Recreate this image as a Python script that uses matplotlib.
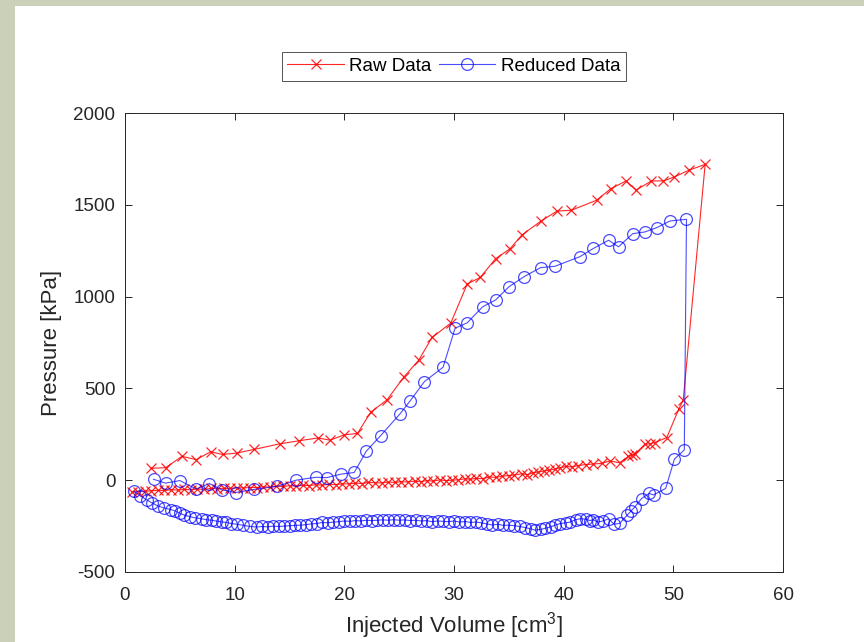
import matplotlib
matplotlib.use("Agg")
import matplotlib.pyplot as plt
from matplotlib.patches import Rectangle

# Raw data: loading branch (increasing volume) then unloading branch
raw_x = [2.4, 3.7, 5.2, 6.5, 7.8, 8.9, 10.2, 11.8, 14.1, 15.9, 17.6, 18.7, 20.0, 21.2,
         22.4, 23.9, 25.4, 26.8, 28.0, 29.7, 31.2, 32.4, 33.8, 35.1, 36.2, 37.9, 39.4,
         40.7, 43.0, 44.3, 45.7, 46.6, 48.0, 49.1, 50.1, 51.4, 52.9,
         50.9, 50.5, 49.4, 48.3, 47.9, 47.4, 46.5, 46.2, 45.9, 45.1, 44.2, 43.5, 42.7,
         42.0, 41.3, 40.8, 40.2, 39.7, 39.2, 38.7, 38.2, 37.7, 37.2, 36.7, 36.2, 35.5,
         35.0, 34.4, 33.8, 33.2, 32.6, 32.0, 31.5, 31.0, 30.4, 29.8, 29.3, 28.7, 28.1,
         27.5, 27.0, 26.4, 25.8, 25.2, 24.6, 24.0, 23.4, 22.8, 22.2, 21.6, 21.0, 20.4,
         19.8, 19.2, 18.6, 18.0, 17.4, 16.8, 16.2, 15.6, 15.0, 14.4, 13.8, 13.2, 12.6,
         12.0, 11.4, 10.8, 10.2, 9.6, 9.0, 8.4, 7.8, 7.2, 6.6, 6.0, 5.4, 4.8, 4.2, 3.6,
         3.0, 2.4, 1.8, 1.2, 0.6]
raw_p = [65, 68, 130, 112, 155, 140, 148, 168, 198, 215, 230, 218, 247, 255,
         370, 438, 560, 655, 778, 855, 1068, 1105, 1207, 1260, 1336, 1410, 1466,
         1470, 1525, 1588, 1630, 1580, 1630, 1630, 1652, 1688, 1720,
         435, 388, 232, 205, 198, 196, 142, 136, 130, 95, 105, 92, 88,
         85, 80, 72, 75, 68, 60, 55, 50, 45, 40, 30, 35, 28,
         25, 22, 15, 18, 8, 10, 5, 8, 2, 0, -3, 2, -5,
         -2, -8, -5, -10, -8, -12, -10, -15, -14, -12, -18, -16, -20,
         -20, -24, -22, -27, -25, -29, -28, -32, -30, -34, -33, -37, -36,
         -40, -40, -42, -41, -45, -44, -47, -45, -50, -48, -52, -50, -54, -52, -56,
         -55, -58, -60, -62, -65]

# Reduced data
red_x = [2.6, 3.7, 5.0, 6.5, 7.7, 8.8, 10.1, 11.8, 13.9, 15.6, 17.4, 18.4, 19.7, 20.9,
         22.0, 23.3, 25.1, 26.0, 27.3, 29.0, 30.1, 31.2, 32.6, 33.8, 35.0, 36.4, 37.9,
         39.2, 41.5, 42.7, 44.1, 45.0, 46.3, 47.4, 48.5, 49.7, 51.2,
         51.0, 50.1, 49.3, 48.2, 47.8, 47.1, 46.5, 46.1, 45.8, 45.1, 44.6, 44.1, 43.6,
         43.1, 42.7, 42.4, 42.0, 41.5, 41.1, 40.6, 40.2, 39.7, 39.2, 38.8, 38.3, 37.9,
         37.4, 37.0, 36.5, 36.0, 35.5, 35.0, 34.5, 34.0, 33.5, 33.0, 32.5, 32.0, 31.5,
         31.0, 30.5, 30.0, 29.5, 29.0, 28.5, 28.0, 27.5, 27.0, 26.5, 26.0, 25.5, 25.0,
         24.5, 24.0, 23.5, 23.0, 22.5, 22.0, 21.5, 21.0, 20.5, 20.0, 19.5, 19.0, 18.5,
         18.0, 17.5, 17.0, 16.5, 16.0, 15.5, 15.0, 14.5, 14.0, 13.5, 13.0, 12.5, 12.0,
         11.4, 10.8, 10.2, 9.7, 9.2, 8.8, 8.3, 7.9, 7.4, 7.0, 6.4, 5.9, 5.4, 5.0, 4.6,
         4.2, 3.6, 3.0, 2.5, 2.0, 1.4, 0.8]
red_p = [5, -16, -2, -48, -18, -52, -67, -50, -33, 0, 16, 14, 33, 42,
         158, 242, 363, 432, 537, 615, 828, 857, 944, 982, 1053, 1109, 1158,
         1165, 1218, 1262, 1307, 1271, 1343, 1352, 1376, 1412, 1421,
         165, 115, -45, -80, -72, -100, -145, -170, -190, -235, -240, -210, -222,
         -228, -215, -220, -212, -210, -215, -228, -232, -236, -245, -255, -262, -268,
         -272, -265, -258, -252, -248, -245, -246, -240, -244, -238, -232, -228, -230,
         -225, -228, -222, -226, -224, -222, -226, -220, -222, -218, -220, -216, -218,
         -215, -218, -216, -218, -220, -218, -222, -220, -224, -222, -226, -228, -232,
         -230, -236, -238, -242, -245, -246, -248, -250, -252, -250, -254, -252, -255,
         -252, -246, -240, -236, -230, -227, -222, -218, -215, -210, -205, -198, -190, -180, -168,
         -160, -152, -140, -125, -108, -85, -60]

plt.rcParams["font.family"] = ["Liberation Sans", "DejaVu Sans"]
plt.rcParams["mathtext.fontset"] = "custom"
plt.rcParams["mathtext.rm"] = "Liberation Sans"
plt.rcParams["mathtext.it"] = "Liberation Sans"
plt.rcParams["axes.unicode_minus"] = False

fig = plt.figure(figsize=(8.64, 6.42), dpi=100)
fig.patch.set_facecolor("#cbd0b9")
fig.add_artist(Rectangle((15 / 864, 0), 1, 636 / 642, transform=fig.transFigure,
                         facecolor="white", edgecolor="none", zorder=-5))

ax = fig.add_axes([125 / 864, 70 / 642, 658 / 864, 459 / 642])
ax.plot(raw_x, raw_p, "-", color="red", lw=0.8, marker="x", ms=7, mew=0.9,
        alpha=0.85, label="Raw Data")
ax.plot(red_x, red_p, "-", color="blue", lw=0.8, marker="o", ms=8.5, mew=0.9,
        mfc="none", alpha=0.7, label="Reduced Data")

ax.set_xlim(0, 60)
ax.set_ylim(-500, 2000)
ax.set_xticks(range(0, 61, 10))
ax.set_yticks(range(-500, 2001, 500))
ax.tick_params(direction="in", length=5, width=0.7, colors="#262626",
               labelsize=13.5, top=True, right=True, pad=7)
ax.tick_params(axis="x", pad=11)
for s in ax.spines.values():
    s.set_color("#262626")
    s.set_linewidth(0.7)
ax.set_xlabel(r"Injected Volume [cm$^3$]", fontsize=16, color="#262626", labelpad=4)
ax.set_ylabel("Pressure [kPa]", fontsize=16, color="#262626", labelpad=8)

leg = ax.legend(loc="lower center", bbox_to_anchor=(0.5, 1.05), ncol=2, fontsize=13.5,
                frameon=True, fancybox=False, edgecolor="#262626", handlelength=3.0,
                handletextpad=0.3, columnspacing=0.4, borderpad=0.3)
leg.get_frame().set_linewidth(0.7)

fig.savefig("out.png", dpi=100)
